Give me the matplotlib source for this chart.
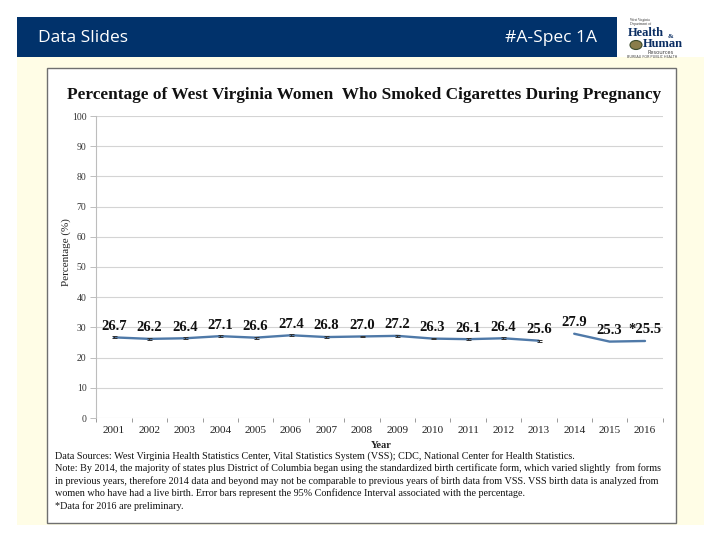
import matplotlib
matplotlib.use("Agg")
import matplotlib.pyplot as plt
from matplotlib.patches import Rectangle, Circle
import numpy as np

# ---- data ----
years = ["2001", "2002", "2003", "2004", "2005", "2006", "2007", "2008",
         "2009", "2010", "2011", "2012", "2013", "2014", "2015", "2016"]
values = [26.7, 26.2, 26.4, 27.1, 26.6, 27.4, 26.8, 27.0,
          27.2, 26.3, 26.1, 26.4, 25.6, 27.9, 25.3, 25.5]
labels = ["26.7", "26.2", "26.4", "27.1", "26.6", "27.4", "26.8", "27.0",
          "27.2", "26.3", "26.1", "26.4", "25.6", "27.9", "25.3", "*25.5"]
ci_err = [0.3, 0.3, 0.3, 0.3, 0.3, 0.3, 0.3, 0.3,
          0.3, 0.3, 0.3, 0.3, 0.3, 0.0, 0.0, 0.0]
yticks = [0, 10, 20, 30, 40, 50, 60, 70, 80, 90, 100]

title = "Percentage of West Virginia Women  Who Smoked Cigarettes During Pregnancy"
notes = [
    "Data Sources: West Virginia Health Statistics Center, Vital Statistics System (VSS); CDC, National Center for Health Statistics.",
    "Note: By 2014, the majority of states plus District of Columbia began using the standardized birth certificate form, which varied slightly  from forms",
    "in previous years, therefore 2014 data and beyond may not be comparable to previous years of birth data from VSS. VSS birth data is analyzed from",
    "women who have had a live birth. Error bars represent the 95% Confidence Interval associated with the percentage.",
    "*Data for 2016 are preliminary.",
]

W, H = 720, 540
fig = plt.figure(figsize=(7.2, 5.4), dpi=100)
fig.patch.set_facecolor("white")

def fx(px):
    return px / W

def fy(py):
    return 1 - py / H

serif = "Liberation Serif"
sans = ["Open Sans", "DejaVu Sans"]

# header bar
fig.add_artist(Rectangle((fx(17), fy(57)), fx(600), 40 / H, transform=fig.transFigure,
                         facecolor="#01326B", edgecolor="none", zorder=0))
fig.text(fx(38), fy(37.5), "Data Slides", color="white", fontsize=12.5,
         family=sans, va="center", ha="left")
fig.text(fx(597), fy(37.5), "#A-Spec 1A", color="white", fontsize=12.5,
         family=sans, va="center", ha="right")

# logo
fig.text(fx(630), fy(22), "West Virginia\nDepartment of", fontsize=2.6, color="#333333",
         family=serif, va="center", ha="left", linespacing=0.9)
fig.text(fx(628), fy(33), "Health", fontsize=9, color="#0B2E63", family=serif,
         weight="bold", va="center", ha="left")
fig.text(fx(668), fy(37), "&", fontsize=5, color="#0B2E63", family=serif,
         weight="bold", va="center", ha="left")
fig.add_artist(Circle((fx(636), fy(45)), 6 / W, transform=fig.transFigure,
                      facecolor="#8a7d4a", edgecolor="#3a4a2a", lw=0.8))
fig.text(fx(643), fy(44), "Human", fontsize=9, color="#0B2E63", family=serif,
         weight="bold", va="center", ha="left")
fig.text(fx(647), fy(52), "Resources", fontsize=4, color="#333333", family=sans,
         va="center", ha="left")
fig.text(fx(627), fy(57), "BUREAU FOR PUBLIC HEALTH", fontsize=2.6, color="#333333",
         family=sans, va="center", ha="left")

# yellow panel
fig.add_artist(Rectangle((fx(17), fy(525)), fx(687), 468 / H, transform=fig.transFigure,
                         facecolor="#FFFDE6", edgecolor="none", zorder=0))
# white chart box
fig.add_artist(Rectangle((fx(47), fy(523)), fx(629), 455 / H, transform=fig.transFigure,
                         facecolor="white", edgecolor="#6f6f6f", lw=1.0, zorder=0.5))

# title
fig.text(fx(364), fy(95), title, family=serif, weight="bold", fontsize=12.4,
         ha="center", va="center", color="#111111", zorder=3)

# axes
ax = fig.add_axes([fx(96.3), fy(418), fx(566.4), 302 / H])
ax.set_zorder(2)
ax.set_facecolor("none")
x = np.arange(len(years))
vals = np.array(values)
err = np.array(ci_err)
line_color = "#4F79A8"
seg1 = slice(0, 13)
seg2 = slice(13, 16)
ax.plot(x[seg1], vals[seg1], color=line_color, lw=1.7, zorder=3, solid_capstyle="round")
ax.plot(x[seg2], vals[seg2], color=line_color, lw=1.7, zorder=3, solid_capstyle="round")
ax.errorbar(x[seg1], vals[seg1], yerr=err[seg1], fmt="none", ecolor="#333333",
            elinewidth=0.7, capsize=1.8, capthick=0.7, zorder=4)

for xi, v, lab in zip(x, vals, labels):
    ax.annotate(lab, (xi, v), xytext=(0, 8), textcoords="offset points",
                ha="center", va="center", family=serif, weight="bold",
                fontsize=10.5, color="#111111", zorder=5)

ax.set_xlim(-0.5, len(years) - 0.5)
ax.set_ylim(0, 100)
ax.set_yticks(yticks)
ax.set_yticklabels([str(t) for t in yticks], family=serif, fontsize=7, color="#333333")
ax.yaxis.grid(True, color="#d4d4d4", lw=0.8)
ax.set_axisbelow(True)
ax.set_xticks(x)
ax.set_xticklabels(years, family=serif, fontsize=8, color="#222222")
ax.set_xticks(np.arange(-0.5, len(years) + 0.5, 1), minor=True)
ax.tick_params(axis="x", which="major", length=0, pad=6)
ax.tick_params(axis="x", which="minor", length=3, color="#9a9a9a", width=0.7)
ax.tick_params(axis="y", length=4, color="#bdbdbd", width=0.7, pad=3)
for s in ["top", "right", "bottom"]:
    ax.spines[s].set_visible(False)
ax.spines["left"].set_color("#bdbdbd")
ax.spines["left"].set_linewidth(0.8)

fig.text(fx(381), fy(445), "Year", family=serif, weight="bold", fontsize=7.5,
         ha="center", va="center", color="#222222", zorder=3)
fig.text(fx(66), fy(252), "Percentage (%)", family=serif, fontsize=8, rotation=90,
         ha="center", va="center", color="#222222", zorder=3)

note_y = [456, 468, 481, 493, 506]
for ny, t in zip(note_y, notes):
    fig.text(fx(55), fy(ny), t, family=serif, fontsize=7.3, ha="left", va="center",
             color="#111111", zorder=3)

fig.savefig("out.png", dpi=100)
